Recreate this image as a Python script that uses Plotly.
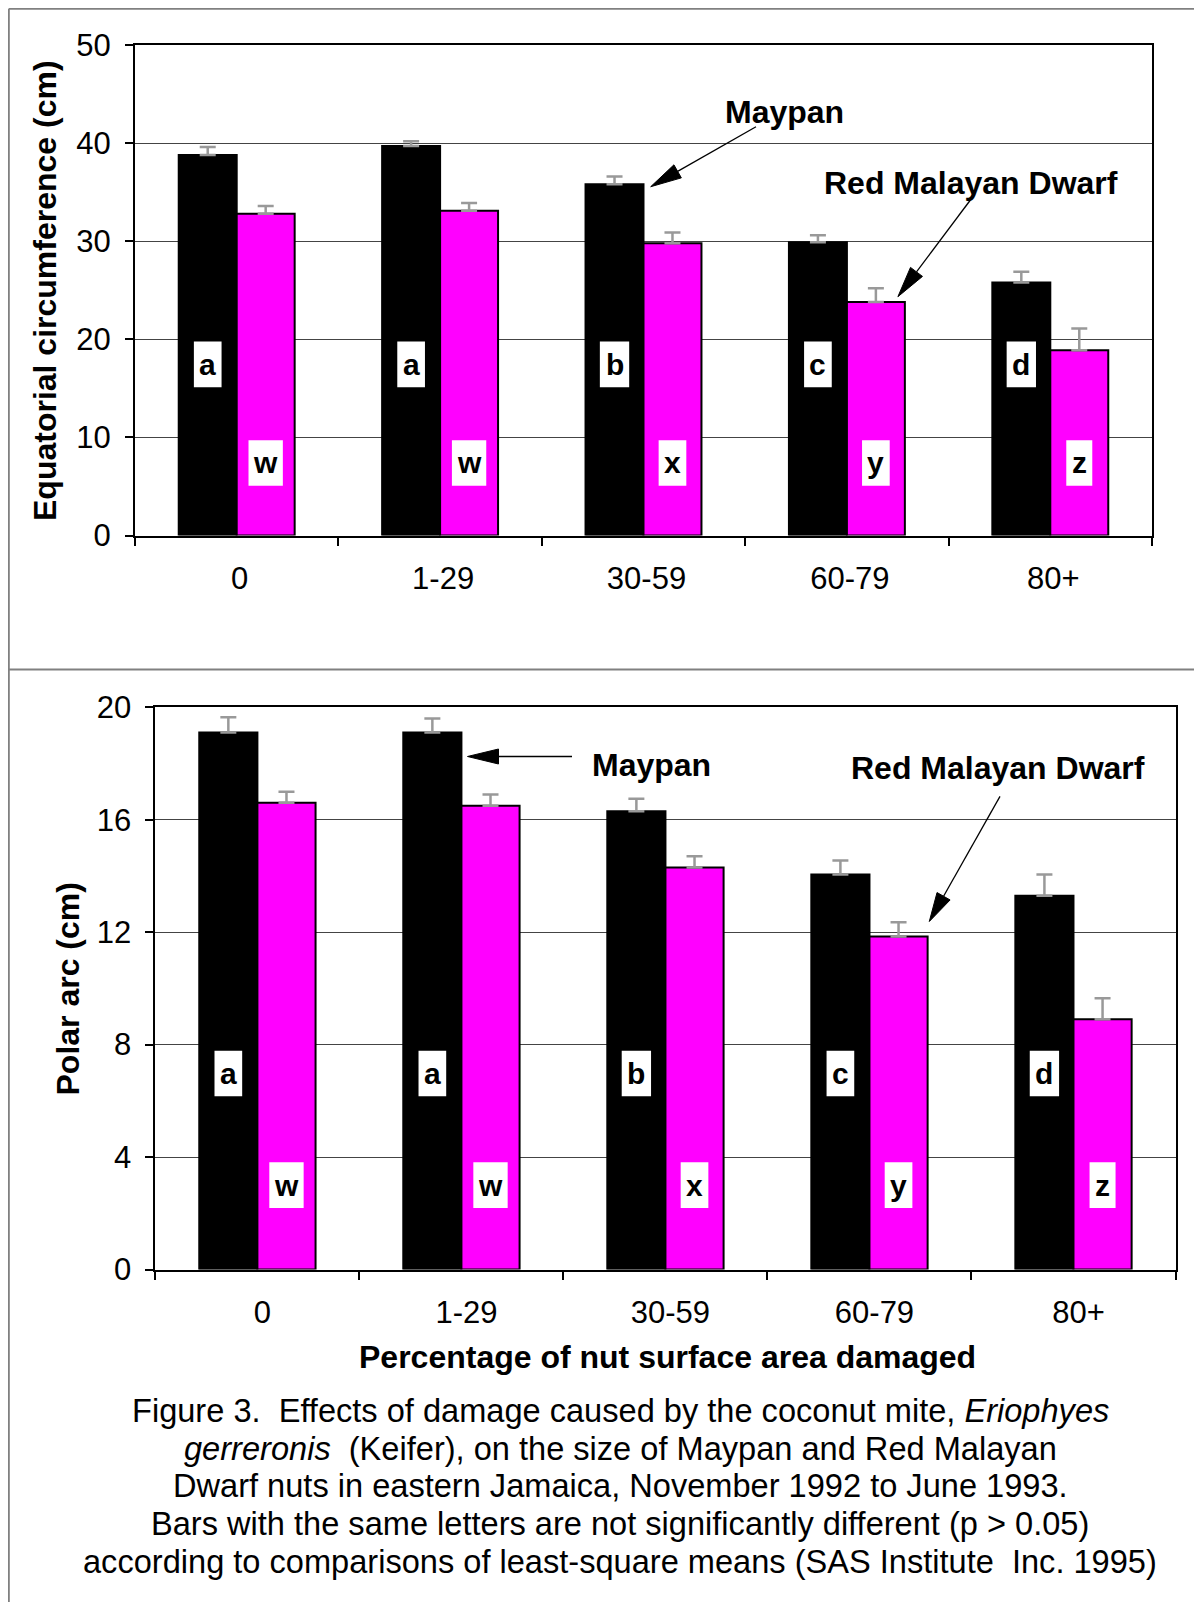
import plotly.graph_objects as go

# ---------------- data ----------------
categories = ["0", "1-29", "30-59", "60-79", "80+"]

circ_maypan = [38.8, 39.7, 35.8, 29.9, 25.8]
circ_maypan_se = [0.8, 0.5, 0.8, 0.7, 1.1]
circ_rmd = [32.8, 33.1, 29.8, 23.8, 18.9]
circ_rmd_se = [0.8, 0.8, 1.1, 1.4, 2.2]

arc_maypan = [19.1, 19.1, 16.3, 14.05, 13.3]
arc_maypan_se = [0.55, 0.5, 0.45, 0.5, 0.75]
arc_rmd = [16.6, 16.5, 14.3, 11.85, 8.9]
arc_rmd_se = [0.4, 0.4, 0.4, 0.5, 0.75]

letters_maypan = ["a", "a", "b", "c", "d"]
letters_rmd = ["w", "w", "x", "y", "z"]

caption_lines = [
    "Figure 3.&nbsp; Effects of damage caused by the coconut mite, <i>Eriophyes</i>",
    "<i>gerreronis</i>&nbsp;&nbsp;(Keifer), on the size of Maypan and Red Malayan",
    "Dwarf nuts in eastern Jamaica, November 1992 to June 1993.",
    "Bars with the same letters are not significantly different (p &gt; 0.05)",
    "according to comparisons of least-square means (SAS Institute&nbsp; Inc. 1995)",
]

# ---------------- styling ----------------
PAGE_OFF = 8          # browser body margin
W, H = 1202 - PAGE_OFF, 1602 - PAGE_OFF
FONT = "Liberation Sans, Arial, sans-serif"
BLACK = "#000000"
MAGENTA = "#FF00FF"
ERRC = "#999999"
LETTER_SIZE = 30
# Arial-bold advance widths (em) of the letter glyphs, used to size the white boxes
BOLD_ADV = {"a": 0.556, "b": 0.611, "c": 0.556, "d": 0.611,
            "w": 0.778, "x": 0.556, "y": 0.556, "z": 0.5}


def px(x):
    return (x - PAGE_OFF) / W


def py(y):
    return 1 - (y - PAGE_OFF) / H


fig = go.Figure()


def add_pair(maypan, maypan_se, rmd, rmd_se, xa, ya):
    zeros = [0] * len(categories)
    fig.add_trace(go.Bar(
        x=categories, y=maypan, xaxis=xa, yaxis=ya, showlegend=False,
        marker=dict(color=BLACK, line=dict(color=BLACK, width=2)),
        error_y=dict(type="data", array=maypan_se, arrayminus=zeros, symmetric=False,
                     color=ERRC, thickness=2.5, width=8),
    ))
    fig.add_trace(go.Bar(
        x=categories, y=rmd, xaxis=xa, yaxis=ya, showlegend=False,
        marker=dict(color=MAGENTA, line=dict(color=BLACK, width=2)),
        error_y=dict(type="data", array=rmd_se, arrayminus=zeros, symmetric=False,
                     color=ERRC, thickness=2.5, width=8),
    ))


add_pair(circ_maypan, circ_maypan_se, circ_rmd, circ_rmd_se, "x", "y")
add_pair(arc_maypan, arc_maypan_se, arc_rmd, arc_rmd_se, "x2", "y2")

xaxis_common = dict(
    type="category", tickson="boundaries", ticks="outside", ticklen=8,
    tickwidth=1.5, tickcolor=BLACK, showline=True, linecolor=BLACK, linewidth=2,
    mirror=True, showgrid=False, tickfont=dict(family=FONT, size=31, color=BLACK),
    ticklabelstandoff=14, automargin=False,
)
yaxis_common = dict(
    ticks="outside", ticklen=8, tickwidth=1.5, tickcolor=BLACK, showline=True,
    linecolor=BLACK, linewidth=2, mirror=True, showgrid=True, gridcolor="#444444",
    gridwidth=1, zeroline=False, tickfont=dict(family=FONT, size=31, color=BLACK),
    ticklabelstandoff=8, automargin=False,
)

fig.update_layout(
    width=W, height=H, margin=dict(l=0, r=0, t=0, b=0, pad=0, autoexpand=False),
    paper_bgcolor="white", plot_bgcolor="white",
    barmode="group", bargap=0.43, bargroupgap=0,
    xaxis=dict(domain=[px(135), px(1152)], anchor="y", ticklabelshift=3, **xaxis_common),
    yaxis=dict(domain=[py(535.6), py(45)], anchor="x", range=[0, 50], dtick=10, **yaxis_common),
    xaxis2=dict(domain=[px(155.4), px(1175.5)], anchor="y2", ticklabelshift=5, **xaxis_common),
    yaxis2=dict(domain=[py(1269.5), py(707.3)], anchor="x2", range=[0, 20], dtick=4, **yaxis_common),
)

annotations = []
shapes = []
OFF = 0.1425  # half of a bar width in category units (bargap 0.43)


def letter_annots(letters, dx, yval, xref, yref):
    for i, t in enumerate(letters):
        w = BOLD_ADV[t] * LETTER_SIZE + 11
        shapes.append(dict(
            type="rect", xref=xref, yref=yref, xsizemode="pixel", ysizemode="pixel",
            xanchor=i + dx, yanchor=yval, x0=-w / 2, x1=w / 2, y0=-22.8, y1=22.8,
            fillcolor="white", line=dict(width=0), layer="above",
        ))
        annotations.append(dict(
            x=i + dx, y=yval, xref=xref, yref=yref, text=t, showarrow=False,
            xanchor="center", yanchor="middle",
            font=dict(family=FONT, size=LETTER_SIZE, color=BLACK, weight="bold"),
        ))


letter_annots(letters_maypan, -OFF, 17.45, "x", "y")
letter_annots(letters_rmd, OFF, 7.4, "x", "y")
letter_annots(letters_maypan, -OFF, 6.97, "x2", "y2")
letter_annots(letters_rmd, OFF, 3.0, "x2", "y2")


def paper_text(x, y, text, size=32, bold=True, angle=0):
    annotations.append(dict(
        x=px(x), y=py(y), xref="paper", yref="paper", text=text, showarrow=False,
        xanchor="center", yanchor="middle", textangle=angle,
        font=dict(family=FONT, size=size, color=BLACK, weight="bold" if bold else "normal"),
    ))


# series labels
paper_text(784, 112, "Maypan")
paper_text(971, 183, "Red Malayan Dwarf")
paper_text(651, 765, "Maypan")
paper_text(998, 768, "Red Malayan Dwarf")

# axis titles
paper_text(45, 291, "Equatorial circumference (cm)", angle=-90)
paper_text(67.5, 989, "Polar arc (cm)", angle=-90)
paper_text(667, 1357, "Percentage of nut surface area damaged")

# caption
cap_y = [1410.5, 1448.3, 1485.5, 1523, 1561]
for yy, line in zip(cap_y, caption_lines):
    paper_text(620, yy, line, size=32.6, bold=False)

fig.update_layout(annotations=annotations)


# ---------------- arrows (lines + filled triangular heads) ----------------
def arrow(tail, head, length=31, width=15):
    tx, ty = tail
    hx, hy = head
    dx, dy = hx - tx, hy - ty
    d = (dx * dx + dy * dy) ** 0.5
    ux, uy = dx / d, dy / d
    bx, by = hx - ux * length, hy - uy * length
    nx, ny = -uy, ux
    c1 = (bx + nx * width / 2, by + ny * width / 2)
    c2 = (bx - nx * width / 2, by - ny * width / 2)
    shapes.append(dict(type="line", xref="paper", yref="paper",
                       x0=px(tx), y0=py(ty), x1=px(bx), y1=py(by),
                       line=dict(color=BLACK, width=1.3)))
    path = "M {:.5f},{:.5f} L {:.5f},{:.5f} L {:.5f},{:.5f} Z".format(
        px(hx), py(hy), px(c1[0]), py(c1[1]), px(c2[0]), py(c2[1]))
    shapes.append(dict(type="path", xref="paper", yref="paper", path=path,
                       fillcolor=BLACK, line=dict(color=BLACK, width=1)))


arrow((756, 126.7), (650.7, 186.7))
arrow((970.4, 200), (897.9, 296.7))
arrow((572, 756.5), (467.5, 756.5))
arrow((1000, 796.4), (929.3, 921.5), length=29)

# panel frame lines (gray)
GRAY = "#808080"
EDGE = 8.8
shapes.append(dict(type="line", xref="paper", yref="paper", x0=px(EDGE), x1=1,
                   y0=py(EDGE), y1=py(EDGE), line=dict(color=GRAY, width=2)))
shapes.append(dict(type="line", xref="paper", yref="paper", x0=px(EDGE), x1=px(EDGE),
                   y0=py(EDGE), y1=0, line=dict(color=GRAY, width=2)))
shapes.append(dict(type="line", xref="paper", yref="paper", x0=px(EDGE), x1=1,
                   y0=py(669.5), y1=py(669.5), line=dict(color=GRAY, width=2)))

fig.update_layout(shapes=shapes)

fig.write_html("out.html")
